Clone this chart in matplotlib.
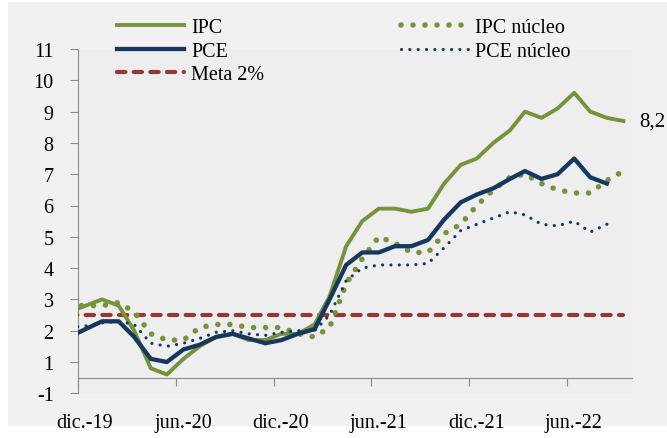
import matplotlib.pyplot as plt
import matplotlib.transforms as mtransforms
from matplotlib.patches import Rectangle
import pandas as pd

# === Data: variación anual (%), mensual desde nov.-19
months = pd.date_range("2019-11-01", "2022-09-01", freq="MS") + pd.Timedelta(days=14)

ipc = [2.1, 2.3,
       2.5, 2.3, 1.5, 0.3, 0.1, 0.6, 1.0, 1.3, 1.4, 1.2, 1.2, 1.4,
       1.4, 1.7, 2.6, 4.2, 5.0, 5.4, 5.4, 5.3, 5.4, 6.2, 6.8, 7.0,
       7.5, 7.9, 8.5, 8.3, 8.6, 9.1, 8.5, 8.3, 8.2]
ipc_core = [2.3, 2.3,
            2.3, 2.4, 2.1, 1.4, 1.2, 1.2, 1.6, 1.7, 1.7, 1.6, 1.6, 1.6,
            1.4, 1.3, 1.6, 3.0, 3.8, 4.5, 4.3, 4.0, 4.0, 4.6, 4.9, 5.5,
            6.0, 6.4, 6.5, 6.2, 6.0, 5.9, 5.9, 6.3, 6.6]
pce = [1.3, 1.55,
       1.8, 1.8, 1.3, 0.6, 0.5, 0.9, 1.05, 1.3, 1.4, 1.25, 1.1, 1.2,
       1.4, 1.55, 2.5, 3.6, 4.0, 4.0, 4.2, 4.2, 4.4, 5.05, 5.6, 5.85,
       6.05, 6.35, 6.6, 6.35, 6.5, 7.0, 6.4, 6.2]
pce_core = [1.6, 1.65,
            1.75, 1.8, 1.7, 1.1, 1.0, 1.1, 1.25, 1.45, 1.5, 1.4, 1.35, 1.45,
            1.5, 1.5, 2.0, 3.1, 3.5, 3.6, 3.6, 3.6, 3.65, 4.15, 4.7, 4.9,
            5.1, 5.3, 5.2, 4.9, 4.85, 5.0, 4.65, 4.9]
meta = 2.0
last_label = "8,2"

xtick_dates = pd.to_datetime(["2019-12-01", "2020-06-01", "2020-12-01",
                              "2021-06-01", "2021-12-01", "2022-06-01"])
xtick_labels = ["dic.-19", "jun.-20", "dic.-20", "jun.-21", "dic.-21", "jun.-22"]
ytick_pos = [-0.5, 0.5, 1.5, 2.5, 3.5, 4.5, 5.5, 6.5, 7.5, 8.5, 9.5, 10.5]
ytick_labels = ["-1", "1", "2", "3", "4", "5", "6", "7", "8", "9", "10", "11"]

# === Style
green = "#76933C"
navy = "#17375E"
red = "#953735"
axis_gray = "#8C8C8C"
plt.rcParams["font.family"] = ["Liberation Serif", "DejaVu Serif"]
fs = 14.5

fig = plt.figure(figsize=(6.67, 4.39), dpi=100, facecolor="white")
fig.patches.append(Rectangle((8 / 667, 12 / 439), 659 / 667, 424 / 439,
                             transform=fig.transFigure, facecolor="#F1F1F1",
                             edgecolor="none", zorder=-5))
ax = fig.add_axes([78 / 667, 44.7 / 439, 554 / 667, 344.3 / 439])
ax.set_facecolor("#EEEEEE")

ax.plot(months[:len(ipc)], ipc, color=green, lw=2.8, label="IPC",
        solid_joinstyle="round", zorder=4)
ax.plot(months[:len(pce)], pce, color=navy, lw=3.1, label="PCE",
        solid_joinstyle="round", zorder=5)
ax.plot([months[0], months[-1]], [meta, meta], color=red, lw=3.0,
        linestyle=(0, (2.0, 2.0)), dash_capstyle="round", label="Meta 2%", zorder=3)
ax.plot(months[:len(ipc_core)], ipc_core, color=green, lw=4.0,
        linestyle=(0, (0.01, 2.15)), dash_capstyle="round", label="IPC núcleo", zorder=4)
ax.plot(months[:len(pce_core)], pce_core, color=navy, lw=2.3,
        linestyle=(0, (0.01, 2.6)), dash_capstyle="round", label="PCE núcleo", zorder=4)

ax.annotate(last_label, (months[len(ipc) - 1], ipc[-1]), textcoords="offset points",
            xytext=(11.5, 0), va="center", ha="left", fontsize=fs + 0.5,
            annotation_clip=False)

# === Axes
ax.set_xlim(pd.Timestamp("2019-12-01"), pd.Timestamp("2022-10-01"))
ax.set_ylim(-0.5, 10.5)
ax.set_yticks(ytick_pos)
ax.set_yticklabels(ytick_labels, fontsize=fs)
ax.set_xticks(xtick_dates)
ax.set_xticklabels([])

# x labels sit below the plot area, a little right of their tick
offset = mtransforms.ScaledTranslation(0.07, 0, fig.dpi_scale_trans)
for d, txt in zip(xtick_dates, xtick_labels):
    ax.text(d, -0.057, txt, transform=ax.get_xaxis_transform() + offset,
            ha="center", va="top", fontsize=fs)

for s in ["top", "right"]:
    ax.spines[s].set_visible(False)
ax.spines["bottom"].set_position(("data", 0))
ax.spines["left"].set_color(axis_gray)
ax.spines["bottom"].set_color(axis_gray)
ax.tick_params(axis="y", direction="out", length=6, color=axis_gray, pad=11.5)
ax.tick_params(axis="x", direction="out", length=6, color=axis_gray)

# === Legend
handles, labels = ax.get_legend_handles_labels()
fig.legend(handles, labels, ncol=2, loc="upper left",
           bbox_to_anchor=(117 / 667, 1 - 19 / 439), bbox_transform=fig.transFigure,
           frameon=False, fontsize=fs, handlelength=3.33, handletextpad=0.35,
           columnspacing=6.8, labelspacing=0.22, borderpad=0, borderaxespad=0)

fig.savefig("out.png", dpi=100, facecolor=fig.get_facecolor())
